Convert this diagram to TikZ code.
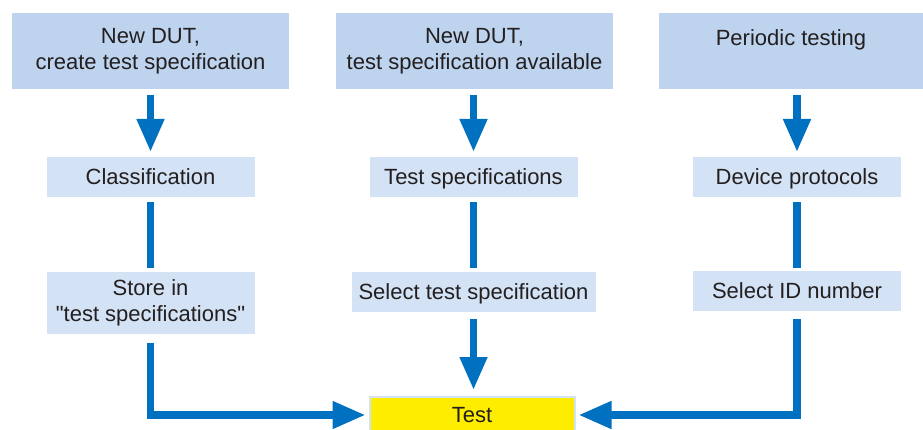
\documentclass[tikz,border=0pt]{standalone}
\usepackage{fontspec}
\setmainfont{Liberation Sans}
\usetikzlibrary{arrows.meta}
\definecolor{headblue}{RGB}{189,211,238}
\definecolor{stepblue}{RGB}{211,226,244}
\definecolor{flowblue}{RGB}{0,112,192}
\definecolor{testyellow}{RGB}{255,237,0}
\definecolor{textgray}{RGB}{35,31,32}
\tikzset{
  headbox/.style={fill=headblue, minimum width=277pt, minimum height=76pt,
    inner sep=0pt, outer sep=0pt, align=center, text=textgray},
  stepbox/.style={fill=stepblue, minimum width=208pt, minimum height=40pt,
    inner sep=0pt, outer sep=0pt, align=center, text=textgray},
  oneline/.style={text height=18pt, text depth=3pt},
  flow/.style={draw=flowblue, line width=7.5pt},
  flowarrow/.style={flow, -{Triangle[width=26pt,length=33pt]}}
}
\begin{document}
\begin{tikzpicture}[x=1pt, y=-1pt, font=\fontsize{22}{26}\selectfont]
  \useasboundingbox (0,0) rectangle (923,430);
  % top row
  \node[headbox] (newspec) at (150.5,51) {New DUT,\\create test specification};
  \node[headbox] (newavail) at (474.5,51) {New DUT,\\test specification available};
  \node[headbox, minimum width=264pt] (periodic) at (791,51) {Periodic testing\\~};
  % middle rows
  \node[stepbox, oneline] (class) at (150.5,177) {Classification};
  \node[stepbox, oneline] (specs) at (473.5,177) {Test specifications};
  \node[stepbox, oneline] (devprot) at (797,177) {Device protocols};
  \node[stepbox, minimum height=62pt] (store) at (150.5,303) {Store in\\\textquotedbl test specifications\textquotedbl};
  \node[stepbox, oneline, minimum width=244pt] (selspec) at (473.5,292) {Select test specification};
  \node[stepbox, oneline] (selid) at (797,291) {Select ID number};
  % bottom
  \node[fill=testyellow, draw=stepblue, line width=2pt, minimum width=205pt,
    minimum height=36pt, inner sep=0pt, outer sep=0pt, oneline, text=textgray] (test) at (472,415) {Test};
  % arrows
  \draw[flowarrow, shorten <=6pt, shorten >=5pt] (newspec.south -| class.north) -- (class.north);
  \draw[flowarrow, shorten <=6pt, shorten >=5pt] (newavail.south -| specs.north) -- (specs.north);
  \draw[flowarrow, shorten <=6pt, shorten >=5pt] (periodic.south -| devprot.north) -- (devprot.north);
  \draw[flow, shorten <=5pt, shorten >=4pt] (class) -- (store);
  \draw[flow, shorten <=5pt, shorten >=4pt] (specs) -- (selspec);
  \draw[flow, shorten <=5pt, shorten >=3pt] (devprot) -- (selid);
  \draw[flowarrow, shorten <=9pt, shorten >=4pt] (store.south) |- (test.west);
  \draw[flowarrow, shorten <=7pt, shorten >=7pt] (selspec.south) -- (selspec.south |- test.north);
  \draw[flowarrow, shorten <=8pt, shorten >=4pt] (selid.south) |- (test.east);
\end{tikzpicture}
\end{document}
